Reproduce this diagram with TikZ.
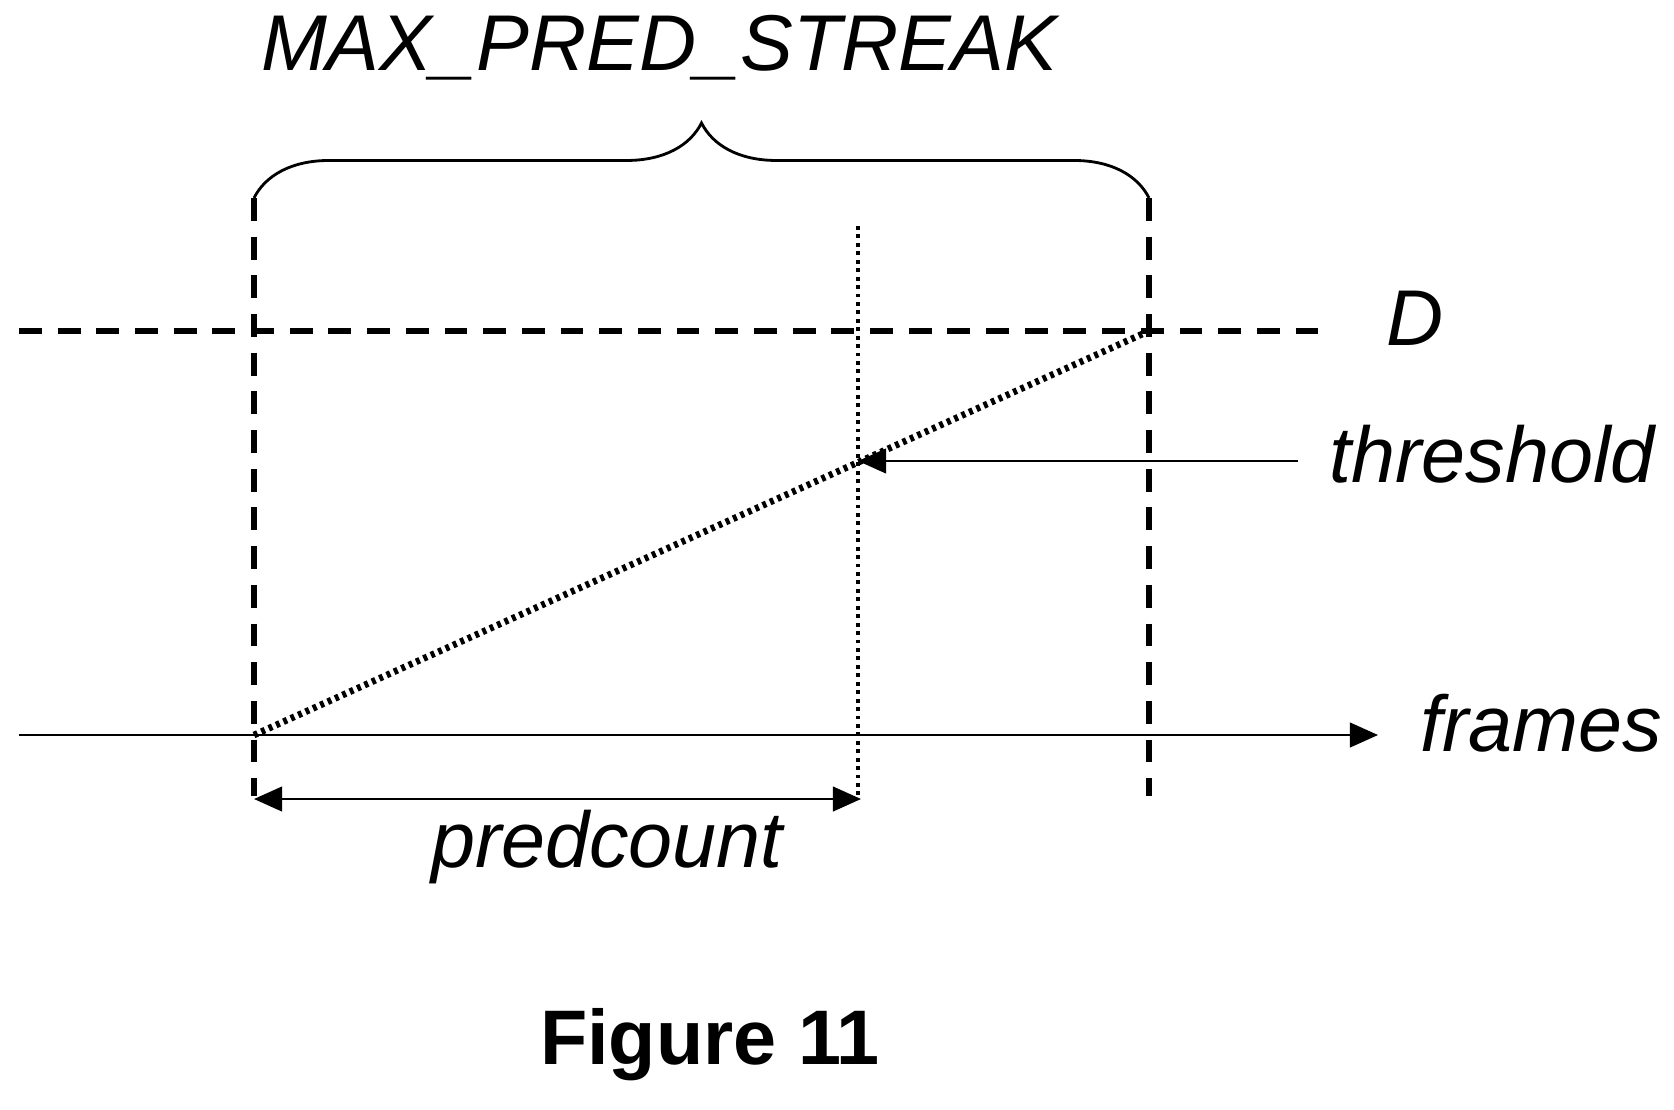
\documentclass[tikz,border=0pt]{standalone}
\usepackage{fontspec}
\setmainfont{Liberation Sans}
\usetikzlibrary{arrows.meta,decorations.pathreplacing}
\begin{document}
\begin{tikzpicture}[x=0.01cm,y=-0.01cm,
  dsh/.style={line width=1.9pt,dash pattern=on 6.5pt off 4.5pt},
  dts/.style={line width=1.9pt,dash pattern=on 1.1pt off 1.2pt},
  thin/.style={line width=0.7pt},
  lbl/.style={font=\fontsize{22.5}{27}\selectfont\itshape,inner sep=0pt}]
\useasboundingbox (0,0) rectangle (1674,1109);
\coordinate (L0) at (254,735);
\coordinate (Ltop) at (254,198);
\coordinate (Lbot) at (254,796);
\coordinate (R0) at (1149,331);
\coordinate (Rtop) at (1149,198);
\coordinate (Rbot) at (1149,796);
\coordinate (Mtop) at (858,226);
\coordinate (Mbot) at (858,796);
\coordinate (M) at (858,461);
\coordinate (Dl) at (19,331);
\coordinate (Dr) at (1330,331);
\coordinate (Fl) at (19,735);
\coordinate (Fr) at (1378,735);
\coordinate (Ts) at (1298,461);
\coordinate (Pl) at (254,799);
\coordinate (Pr) at (861,799);
\draw[dsh] (Ltop) -- (Lbot);
\draw[dsh] (Rtop) -- (Rbot);
\draw[dsh] (Dl) -- (Dr);
\draw[line width=1.3pt,dash pattern=on 1.1pt off 1.3pt] (Mtop) -- (Mbot);
\draw[dts] (L0) -- (R0);
\draw[thin,-{Triangle[length=8pt,width=7pt]}] (Fl) -- (Fr);
\draw[thin,-{Triangle[length=8pt,width=7pt]}] (Ts) -- (M);
\draw[thin,{Triangle[length=8pt,width=7pt]}-{Triangle[length=8pt,width=7pt]}] (Pl) -- (Pr);
\draw[line width=0.8pt,decorate,decoration={brace,amplitude=0.75cm}] (Ltop) -- (Rtop);
\node[lbl] (max) at (659,48) {MAX\_PRED\_STREAK};
\node[lbl] (d) at (1415,318) {D};
\node[lbl] (th) at (1492,454) {threshold};
\node[lbl] (fr) at (1541,723) {frames};
\node[lbl] (pc) at (607,847) {predcount};
\node[inner sep=0pt,font=\fontsize{22}{26}\selectfont\bfseries] (fig) at (710,1045) {Figure 11};
\end{tikzpicture}
\end{document}
